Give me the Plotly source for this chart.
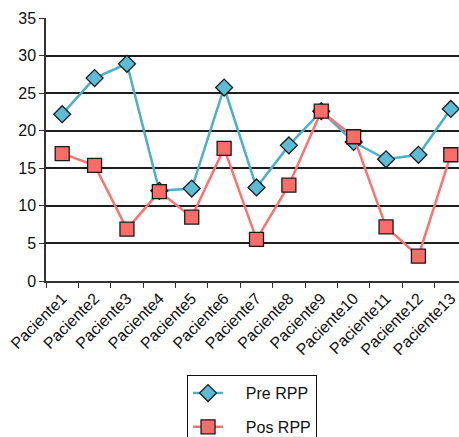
import plotly.graph_objects as go

categories = ["Paciente1", "Paciente2", "Paciente3", "Paciente4", "Paciente5", "Paciente6",
              "Paciente7", "Paciente8", "Paciente9", "Paciente10", "Paciente11", "Paciente12",
              "Paciente13"]
pre_rpp = [22.2, 27.0, 28.9, 12.0, 12.3, 25.75, 12.45, 18.05, 22.6, 18.5, 16.2, 16.8, 22.9]
pos_rpp = [16.95, 15.4, 6.9, 11.9, 8.5, 17.65, 5.55, 12.75, 22.6, 19.2, 7.2, 3.3, 16.8]
y_ticks = [0, 5, 10, 15, 20, 25, 30, 35]

pad = "\u00a0" * 4

fig = go.Figure()
fig.add_trace(go.Scatter(
    x=categories, y=pre_rpp, name=pad + "Pre RPP", mode="lines+markers", legendgroup="a",
    line=dict(color="#4bb0c8", width=2.5),
    marker=dict(symbol="diamond", size=13, color="#5cbcd6", line=dict(color="#1a1a1a", width=1.3)),
))
fig.add_trace(go.Scatter(
    x=categories, y=pos_rpp, name=pad + "Pos RPP", mode="lines+markers", legendgroup="b",
    line=dict(color="#fa7373", width=2.5),
    marker=dict(symbol="square", size=14, color="#f96c67", line=dict(color="#1a1a1a", width=1.3)),
))

fig.update_layout(
    template="none",
    width=475, height=460,
    margin=dict(l=46, r=8, t=18, b=179, autoexpand=False),
    paper_bgcolor="white", plot_bgcolor="white",
    font=dict(family="Liberation Sans, Arial, sans-serif", size=16, color="#111111"),
    showlegend=True,
    legend=dict(
        x=0.335, y=-0.358, xanchor="left", yanchor="top",
        bordercolor="#111111", borderwidth=1, bgcolor="white",
        font=dict(size=16), tracegroupgap=10,
    ),
    xaxis=dict(
        type="category", range=[-0.5, 12.5], tickangle=-45, automargin=False,
        showgrid=False, showline=True, linecolor="#333333", linewidth=1.5,
        ticks="outside", tickson="boundaries", ticklen=5, tickcolor="#333333",
        tickfont=dict(size=16), zeroline=False,
    ),
    yaxis=dict(
        range=[0, 35], tickvals=y_ticks, automargin=False,
        showgrid=True, gridcolor="#1e1e1e", gridwidth=1.5,
        showline=True, linecolor="#333333", linewidth=1.5,
        ticks="outside", ticklen=5, tickcolor="#333333", zeroline=False,
        tickfont=dict(size=16),
    ),
)

fig.write_html(
    "out.html",
    config={"displayModeBar": False},
    post_script="document.body.style.margin='0';document.body.style.overflow='hidden';",
)
